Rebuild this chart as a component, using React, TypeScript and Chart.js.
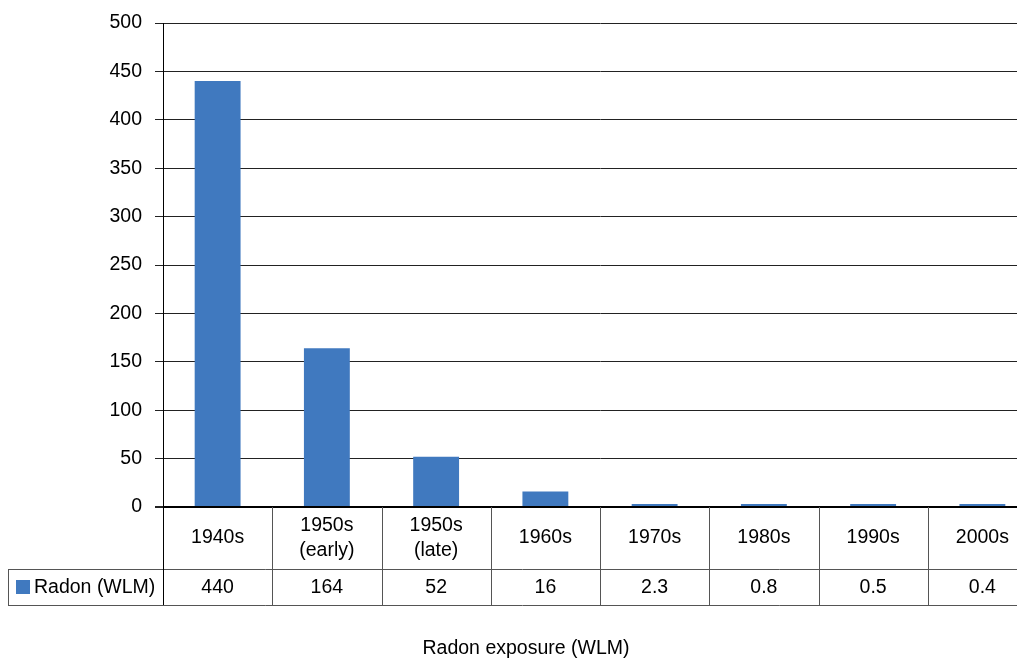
import React, { useEffect, useRef } from "react";
import { Chart, registerables } from "chart.js";

Chart.register(...registerables);

const categories: string[][] = [
  ["1940s"],
  ["1950s", "(early)"],
  ["1950s", "(late)"],
  ["1960s"],
  ["1970s"],
  ["1980s"],
  ["1990s"],
  ["2000s"],
];
const radonValues = [440, 164, 52, 16, 2.3, 0.8, 0.5, 0.4];
const radonLabels = ["440", "164", "52", "16", "2.3", "0.8", "0.5", "0.4"];
const seriesName = "Radon (WLM)";
const axisTitle = "Radon exposure (WLM)";
const yMin = 0;
const yMax = 500;
const yStep = 50;

const FONT = '"Liberation Sans", Arial, sans-serif';
const BAR_COLOR = "#4079BF";
const TABLE_LINE = "#555555";
const W = 1029;
const H = 652;

const tablePlugin = {
  id: "dataTable",
  afterDraw(chart: any) {
    const ctx = chart.ctx as CanvasRenderingContext2D;
    const area = chart.chartArea;
    const n = categories.length;
    const w = (area.right - area.left) / n;
    const top = area.bottom;
    const mid = top + 62;
    const bot = top + 98;
    const right = chart.width;
    ctx.save();
    ctx.strokeStyle = TABLE_LINE;
    ctx.lineWidth = 1;
    const a = (v: number) => Math.round(v) + 0.5;
    ctx.beginPath();
    for (let i = 1; i < n; i++) {
      const x = a(area.left + i * w);
      ctx.moveTo(x, top);
      ctx.lineTo(x, bot);
    }
    ctx.moveTo(0, a(mid));
    ctx.lineTo(right, a(mid));
    ctx.moveTo(0, a(bot));
    ctx.lineTo(right, a(bot));
    ctx.moveTo(0.5, a(mid));
    ctx.lineTo(0.5, a(bot));
    ctx.stroke();
    ctx.strokeStyle = "#000";
    ctx.beginPath();
    ctx.moveTo(a(area.left), top);
    ctx.lineTo(a(area.left), bot);
    ctx.stroke();

    ctx.fillStyle = "#000";
    ctx.font = `19.5px ${FONT}`;
    ctx.textAlign = "center";
    ctx.textBaseline = "middle";
    categories.forEach((lines, i) => {
      const cx = area.left + (i + 0.5) * w;
      const cy = (top + mid) / 2;
      const lh = 25;
      lines.forEach((t, j) => {
        ctx.fillText(t, cx, cy + (j - (lines.length - 1) / 2) * lh);
      });
      ctx.fillText(radonLabels[i], cx, (mid + bot) / 2 + 1);
    });
    const ly = (mid + bot) / 2;
    ctx.fillStyle = BAR_COLOR;
    ctx.fillRect(8, ly - 7, 14, 14);
    ctx.fillStyle = "#000";
    ctx.textAlign = "left";
    ctx.fillText(seriesName, 26, ly + 1);
    ctx.textAlign = "center";
    ctx.fillText(axisTitle, 518, 641);
    ctx.restore();
  },
};

export default function App() {
  const ref = useRef<HTMLCanvasElement>(null);
  useEffect(() => {
    document.body.style.overflow = "hidden";
    const chart = new Chart(ref.current!, {
      type: "bar",
      data: {
        labels: categories.map((c) => c.join(" ")),
        datasets: [
          {
            label: seriesName,
            data: radonValues,
            backgroundColor: BAR_COLOR,
            borderWidth: 0,
            barPercentage: 0.42,
            categoryPercentage: 1,
            minBarLength: 3,
          },
        ],
      },
      options: {
        animation: false,
        responsive: false,
        devicePixelRatio: 1,
        layout: { padding: { top: 15, right: 0, bottom: 153, left: 0 } },
        plugins: { legend: { display: false }, tooltip: { enabled: false } },
        scales: {
          x: { display: false },
          y: {
            min: yMin,
            max: yMax,
            afterFit(scale: any) {
              scale.width = 155;
              scale.paddingTop = 0;
              scale.paddingBottom = 0;
            },
            ticks: {
              stepSize: yStep,
              color: "#000",
              padding: 13,
              font: { family: FONT, size: 19.5 },
            },
            grid: {
              color: (c: any) => (c.tick && c.tick.value === 0 ? "#000" : "#222"),
              lineWidth: (c: any) => (c.tick && c.tick.value === 0 ? 2 : 1),
              tickLength: 8,
              tickColor: "#222",
              drawTicks: true,
            },
            border: { display: true, color: "#000", width: 1 },
          },
        },
      },
      plugins: [tablePlugin],
    });
    return () => chart.destroy();
  }, []);
  return (
    <div style={{ width: W, height: H, position: "relative" }}>
      <canvas ref={ref} width={W} height={H} style={{ display: "block", width: W, height: H }} />
    </div>
  );
}
